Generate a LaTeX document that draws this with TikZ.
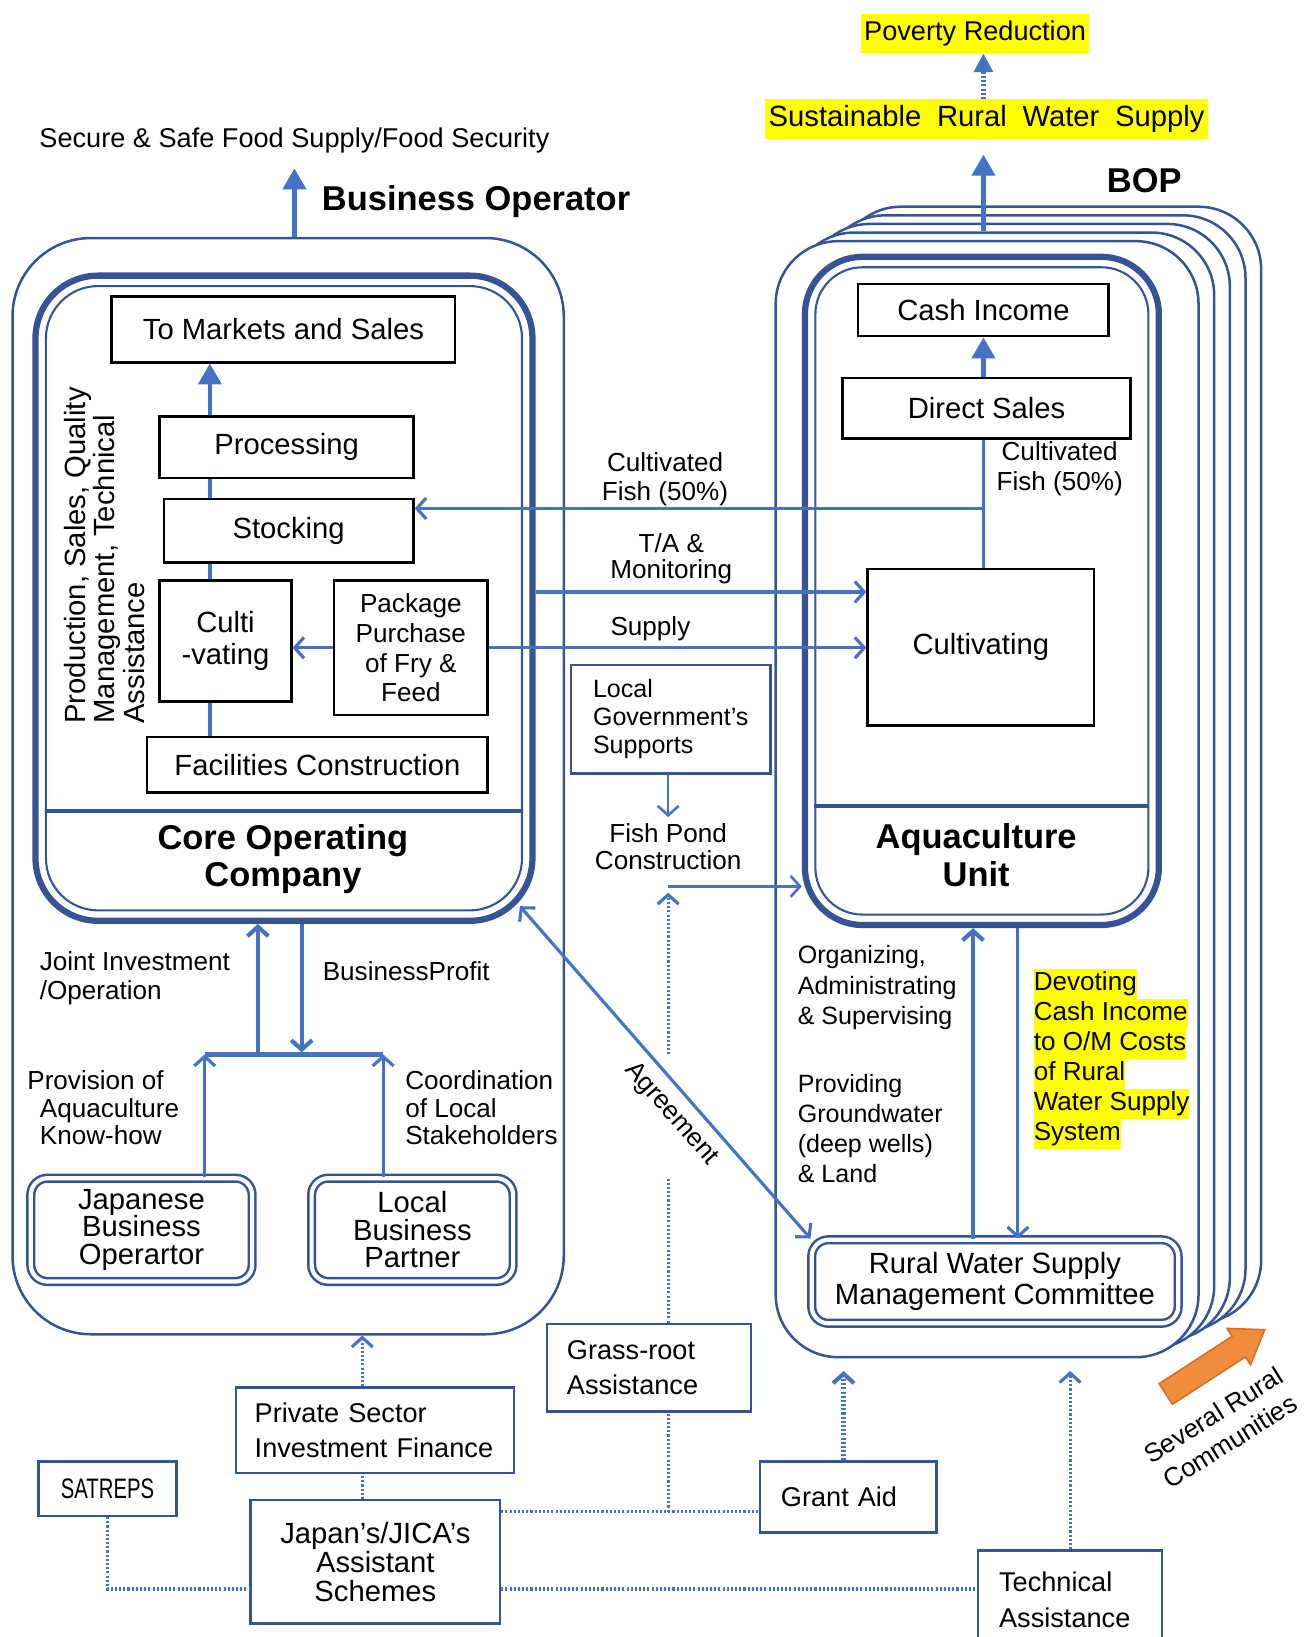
\documentclass[tikz,border=0pt]{standalone}
\usepackage{fontspec}
\setmainfont{Liberation Sans}
\usepackage{graphicx}
\usetikzlibrary{arrows.meta,calc,shapes.arrows}
\definecolor{boxblue}{RGB}{52,84,150}
\definecolor{arrowblue}{RGB}{68,114,196}
\definecolor{hlyellow}{RGB}{255,255,0}
\definecolor{orangefill}{RGB}{240,140,60}
\definecolor{orangeline}{RGB}{215,110,30}
\newcommand\fmain{\fontsize{28}{30}\selectfont}
\newcommand\flbl{\fontsize{25}{28.5}\selectfont}
\newcommand\fsub{\fontsize{26}{34}\selectfont}
\newcommand\fbig{\fontsize{33}{36}\selectfont\bfseries}
\newcommand\hlline[1]{{\setlength{\fboxsep}{0pt}\colorbox{hlyellow}{\strut#1}}}
\tikzset{
  blk/.style={draw=black, line width=2.4pt, fill=white, inner sep=0pt, align=center, font=\fmain},
  bbx/.style={draw=boxblue, line width=2.2pt, fill=white, inner sep=0pt, align=left, font=\fsub},
  dbl/.style={draw=boxblue, double=white, double distance=4pt, line width=2.4pt, rounded corners=16pt, fill=white, inner sep=0pt, align=center},
  bopbox/.style={draw=boxblue, line width=2.4pt, fill=white, rounded corners=60pt, minimum width=405pt, minimum height=1069pt, inner sep=0pt},
  lbl/.style={font=\flbl, align=left, inner sep=0pt},
  barb/.style={draw=arrowblue, line width=3pt, -{Straight Barb[length=9pt,width=20pt]}},
  tri/.style={draw=arrowblue, line width=4pt, -{Triangle[length=20pt,width=22pt]}},
  dotline/.style={draw=arrowblue, line width=3pt, dash pattern=on 2pt off 2pt},
  dotbarb/.style={dotline, -{Straight Barb[length=9pt,width=20pt]}},
}
\begin{document}
\begin{tikzpicture}[x=1pt,y=-1pt]
\useasboundingbox (0,0) rectangle (1259,1568);
\clip (0,0) rectangle (1259,1568);
% goals on top
\node[fill=hlyellow, font=\fontsize{26}{30}\selectfont, minimum width=218pt, minimum height=38pt, inner sep=0pt] (povred) at (934,32) {Poverty Reduction};
\node[fill=hlyellow, font={\fmain\spaceskip=15pt\relax}, minimum width=425pt, minimum height=38pt, inner sep=0pt] (srws) at (945,114) {Sustainable Rural Water Supply};
\node[font=\fontsize{26}{30}\selectfont, inner sep=0pt] (secure) at (282,135) {Secure \& Safe Food Supply/Food Security};
\node[font=\fbig, inner sep=0pt] (busoptitle) at (456,193) {Business Operator};
\node[font=\fbig, inner sep=0pt] (boptitle) at (1096,173) {BOP};

% business operator side
\node[draw=boxblue, line width=2.4pt, rounded corners=75pt, minimum width=528pt, minimum height=1050pt] (busop) at (276,753) {};
% BOP stack
\foreach \k in {4,3,2,1}
  \node[bopbox] (bop\k) at ({945.5+15*\k},{765.5-8.25*\k}) {};
\node[bopbox] (bop) at (945.5,765.5) {};

% core operating company
\node[draw=boxblue, line width=6pt, fill=white, rounded corners=60pt, minimum width=476pt, minimum height=618pt] (core) at (272,573) {};
\node[draw=boxblue, line width=2pt, rounded corners=50pt, minimum width=456pt, minimum height=598pt] (corein) at (272,573) {};
\draw[boxblue, line width=4pt] (corein.west |- 0,777) -- (corein.east |- 0,777);
\node[font=\fbig, align=center, inner sep=0pt] (coretitle) at (271,823) {Core Operating\\Company};

% aquaculture unit
\node[draw=boxblue, line width=6pt, fill=white, rounded corners=55pt, minimum width=339pt, minimum height=640pt] (aqua) at (940.5,566) {};
\node[draw=boxblue, line width=2pt, rounded corners=45pt, minimum width=319pt, minimum height=620pt] (aquain) at (940.5,566) {};
\draw[boxblue, line width=4pt] (aquain.west |- 0,772) -- (aquain.east |- 0,772);
\node[font=\fbig, align=center, inner sep=0pt] (aquatitle) at (935,819) {Aquaculture\\Unit};

% inside the core
\node[blk, minimum width=329pt, minimum height=63pt] (mkt) at (271.5,315.5) {To Markets and Sales};
\node[blk, minimum width=243pt, minimum height=59pt] (proc) at (274.5,428.5) {Processing};
\node[blk, minimum width=239pt, minimum height=61pt] (stock) at (276.5,508.5) {Stocking};
\node[blk, minimum width=126pt, minimum height=116pt] (culti) at (216,614) {Culti\\-vating};
\node[blk, font=\flbl, minimum width=147pt, minimum height=129pt] (pkg) at (393.5,620.5) {Package\\Purchase\\of Fry \&\\Feed};
\node[blk, minimum width=326pt, minimum height=53pt] (fac) at (304,732.5) {Facilities Construction};
\node[rotate=90, align=left, font=\fontsize{28}{28}\selectfont, inner sep=0pt] (prodtxt) at (100,532) {Production, Sales, Quality\\Management, Technical\\Assistance};
\coordinate (spine) at (201,0);
\draw[arrowblue, line width=4pt] (spine |- fac.north) -- (spine |- culti.south);
\draw[arrowblue, line width=4pt] (spine |- culti.north) -- (spine |- stock.south);
\draw[arrowblue, line width=4pt] (spine |- stock.north) -- (spine |- proc.south);
\draw[tri] (spine |- proc.north) -- (spine |- mkt.south);
\draw[barb] (pkg.west) -- (pkg.west -| culti.east);

% inside the aquaculture unit
\node[blk, minimum width=240pt, minimum height=50pt] (cash) at (942,297) {Cash Income};
\node[blk, minimum width=276pt, minimum height=58pt] (dsales) at (945,391) {Direct Sales};
\node[blk, minimum width=217pt, minimum height=150pt] (cultv) at (939.5,620) {Cultivating};
\draw[tri] (cash.south |- dsales.north) -- (cash.south);
\draw[arrowblue, line width=3pt] (cash.south |- cultv.north) -- (cash.south |- dsales.south);

% flows between core and aquaculture
\coordinate (cfj) at (942,487);
\draw[barb] (cfj) -- (cfj -| stock.east);
\node[lbl, align=center] (cflbl) at (637,459) {Cultivated\\Fish (50\%)};
\node[lbl, align=center] (cflbr) at (1015,449) {Cultivated\\Fish (50\%)};
\coordinate (tay) at (0,567);
\draw[barb] (core.east |- tay) -- (cultv.west |- tay);
\node[lbl, align=center, font=\fontsize{25}{25}\selectfont] (talbl) at (643,535) {T/A \&\\Monitoring};
\draw[barb] (pkg.east) -- (pkg.east -| cultv.west);
\node[lbl] (suplbl) at (623,602) {Supply};

% local government
\node[bbx, font=\fontsize{24}{27}\selectfont, minimum width=191pt, minimum height=104pt] (lgov) at (642.5,689) {Local\\Government's\\Supports};
\node[lbl, align=center, font=\fontsize{25}{26}\selectfont] (fpc) at (640,811) {Fish Pond\\Construction};
\draw[barb, line width=2.5pt, shorten >=6pt] (lgov.south -| fpc) -- (fpc.north);
\coordinate (fpj) at (640,849);
\draw[barb, line width=2.5pt] (fpj) -- (fpj -| aqua.west);

% rural water committee
\node[dbl, font=\fontsize{28}{29}\selectfont, minimum width=351pt, minimum height=80pt] (rwsmc) at (953,1227.5) {Rural Water Supply\\Management Committee};
\draw[barb, line width=4pt] ([xshift=-21pt]rwsmc.north) -- ([xshift=-21pt]rwsmc.north |- aqua.south);
\draw[barb] ([xshift=22pt]rwsmc.north |- aqua.south) -- ([xshift=22pt]rwsmc.north);
\node[lbl, anchor=west, font=\fontsize{24}{29}\selectfont] (orglbl) at (764,946) {Organizing,\\Administrating\\\& Supervising};
\node[lbl, anchor=west, font=\fontsize{24}{29}\selectfont] (gwlbl) at (764,1081) {Providing\\Groundwater\\(deep wells)\\\& Land};
\node[lbl, anchor=west, font=\fontsize{25}{28.7}\selectfont] (devlbl) at (990,1014.5) {\hlline{Devoting}\\\hlline{Cash Income}\\\hlline{to O/M Costs}\\\hlline{of Rural}\\\hlline{Water Supply}\\\hlline{System}};

% agreement
\draw[barb, {Straight Barb[length=9pt,width=20pt]}-{Straight Barb[length=9pt,width=20pt]}] ($(core.south east)+(-15,-17)$) -- (rwsmc.north west) node[pos=0.58, sloped, below=6pt, font=\flbl] (agrlbl) {Agreement};

% partners
\node[dbl, font=\fontsize{28}{26.5}\selectfont, minimum width=212pt, minimum height=99pt] (jbo) at (135.5,1178) {Japanese\\Business\\Operartor};
\node[dbl, font=\fontsize{28}{26.5}\selectfont, minimum width=193pt, minimum height=99pt] (lbp) at (395,1178) {Local\\Business\\Partner};
\coordinate (jl) at (196,1010);
\coordinate (jr) at (367,1010);
\coordinate (jm) at (247,1010);
\coordinate (bpc) at (289,1008);
\draw[arrowblue, line width=4pt] (jl) -- (jr);
\draw[barb, line width=4pt] (jm) -- (jm |- core.south);
\draw[barb, line width=4pt] (bpc |- core.south) -- (bpc);
\draw[barb] (jbo.north -| jl) -- (jl);
\draw[barb] (lbp.north -| jr) -- (jr);
\node[lbl, anchor=west] (jilbl) at (38,937) {Joint Investment\\/Operation};
\node[lbl, anchor=west] (bplbl) at (309,930) {BusinessProfit};
\node[lbl, anchor=west, font=\fontsize{25}{26}\selectfont] (provlbl) at (26,1061) {Provision of\\\hspace*{12pt}Aquaculture\\\hspace*{12pt}Know-how};
\node[lbl, anchor=west, font=\fontsize{25}{26}\selectfont] (coordlbl) at (388,1061) {Coordination\\of Local\\Stakeholders};

% assistance schemes
\node[bbx, text width=157pt, inner xsep=19pt, minimum height=84pt] (grass) at (621.5,1310) {Grass-root\\Assistance};
\node[bbx, text width=230pt, inner xsep=18pt, minimum height=82pt, font=\fontsize{26}{33}\selectfont] (psif) at (359,1370) {Private Sector\\Investment Finance};
\node[bbx, align=center, minimum width=132pt, minimum height=52pt, font=\fontsize{27}{30}\selectfont] (satreps) at (103,1426) {\scalebox{0.72}[1]{SATREPS}};
\node[bbx, align=center, minimum width=239pt, minimum height=118pt, font=\fontsize{28}{27.5}\selectfont] (japan) at (359.5,1496) {Japan's/JICA's\\Assistant\\Schemes};
\node[bbx, text width=129pt, inner xsep=20pt, minimum height=68pt] (grant) at (812.5,1434) {Grant Aid};
\node[bbx, text width=136pt, inner xsep=20pt, minimum height=95pt] (tech) at (1025,1532.5) {Technical\\Assistance};

\coordinate (dv) at (640,1448);
\coordinate (gapb) at (640,1128);
\coordinate (gapt) at (640,1010);
\draw[dotline] (grass.north -| dv) -- (gapb);
\draw[dotbarb] (gapt) -- ([yshift=-6pt]fpj);
\draw[dotline] (dv) -- (dv |- grass.south);
\draw[dotbarb] ([xshift=-12pt]psif.north) -- ([xshift=-12pt]psif.north |- busop.south);
\draw[dotline] ([xshift=-12pt]japan.north) -- ([xshift=-12pt]japan.north |- psif.south);
\draw[dotline] (satreps.south) |- ([yshift=-26pt]japan.west);
\draw[dotline] ([yshift=48pt]japan.east) -- ([yshift=48pt]japan.east -| grant.west);
\draw[dotline] ([yshift=-26pt]japan.east) -- ([yshift=-26pt]japan.east -| tech.west);
\draw[dotbarb, line width=4pt] ([xshift=-4.5pt]grant.north) -- ($(grant.north |- bop.south)+(-4.5,12)$);
\draw[dotbarb] (tech.north) -- ($(tech.north |- bop.south)+(0,12)$);

% arrows to the goals
\draw[tri] (cash |- bop1.north) -- ($(srws.south -| cash)+(0,15)$);
\draw[tri] (secure |- busop.north) -- ($(secure.south)+(0,14)$);
\draw[dotline, line width=4pt, -{Triangle[length=18pt,width=18pt]}] (srws.north -| cash) -- (povred.south -| cash);

% several communities
\node[single arrow, fill=orangefill, draw=orangeline, line width=1.5pt, minimum height=113pt, inner xsep=0pt, inner ysep=11pt, single arrow head extend=9pt, single arrow tip angle=70, rotate=33] (orng) at (1157,1309) {};
\node[font=\fontsize{25}{30}\selectfont, align=center, rotate=32, inner sep=0pt] (sevlbl) at (1170,1368) {Several Rural\\Communities};
\end{tikzpicture}
\end{document}
